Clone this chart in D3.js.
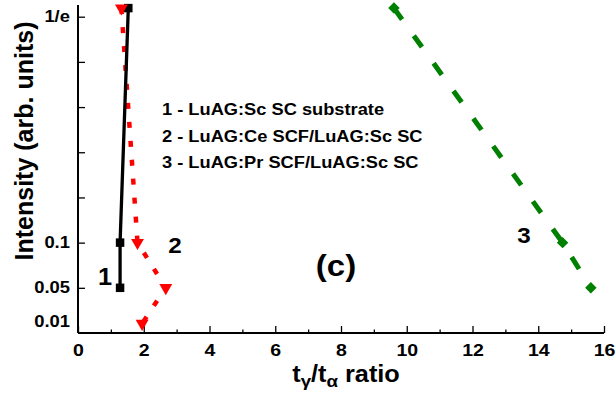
<!DOCTYPE html>
<html>
<head>
<meta charset="utf-8">
<script src="https://cdn.jsdelivr.net/npm/d3@7"></script>
<style>
  html, body { margin: 0; padding: 0; background: #fff; }
  svg { display: block; }
  text { font-family: "Liberation Sans", Arial, sans-serif; font-weight: bold; fill: #000; }
</style>
</head>
<body>
<svg id="chart" width="615" height="394"></svg>
<script>
// Decay-time ratio data; the vertical axis is a ranked intensity scale,
// each unit being one labelled step (0.05, 0.1, ... up to 1/e).
const xMajorTicks = [0, 2, 4, 6, 8, 10, 12, 14, 16];
const xMinorTicks = [1, 3, 5, 7, 9, 11, 13, 15];
const yTickLevels = [1, 2, 3, 4, 5, 6, 7];
const yTickLabels = ["0.05", "0.1", "", "", "", "", "1/e"];
const yExtraLabel = "0.01";
const yExtraLevel = 0.24;

const s1X = [1.28, 1.28, 1.53];
const s1Y = [1, 2, 7.19];
const s2X = [1.32, 1.81, 2.67, 1.95];
const s2Y = [7.19, 2, 1, 0.21];
const s3X = [9.61, 14.74, 15.6];
const s3Y = [7.19, 2, 1];

const legendLines = [
  "1 - LuAG:Sc SC substrate",
  "2 - LuAG:Ce SCF/LuAG:Sc SC",
  "3 - LuAG:Pr SCF/LuAG:Sc SC"
];

const svg = d3.select("#chart");
const x = d3.scaleLinear().domain([0, 16]).range([78, 604]);
const y = d3.scaleLinear().domain([0, 7]).range([333, 16.7]);
const yTop = 5;

// axes
const gx = svg.append("g").attr("transform", "translate(0,333)");
gx.call(d3.axisBottom(x).tickValues(xMajorTicks).tickSizeInner(-7).tickSizeOuter(0).tickPadding(12).tickFormat(d3.format("d")));
const gxm = svg.append("g").attr("transform", "translate(0,333)");
gxm.call(d3.axisBottom(x).tickValues(xMinorTicks).tickSizeInner(-3.5).tickSizeOuter(0).tickFormat(""));
gxm.select(".domain").remove();
gx.select(".domain").attr("d", `M${x(0)},0H${x(16)}`).attr("stroke-width", 2);
gx.selectAll(".tick line").attr("stroke-width", 1.3);
gxm.selectAll(".tick line").attr("stroke-width", 1.3);
gx.selectAll(".tick text").attr("font-size", 16).attr("transform", "scale(1.22,1)");

const gy = svg.append("g").attr("transform", "translate(78,0)");
gy.call(d3.axisLeft(y).tickValues(yTickLevels).tickSizeInner(-7).tickSizeOuter(0).tickPadding(8)
  .tickFormat((d, i) => yTickLabels[i]));
gy.select(".domain").attr("d", `M0,${yTop}V${y(0)}`).attr("stroke-width", 2);
gy.selectAll(".tick line").attr("stroke-width", 1.3);
gy.selectAll(".tick text").attr("font-size", 16).attr("x", -7).attr("transform", "scale(1.15,1)");
gy.append("text")
  .attr("x", -7).attr("y", y(yExtraLevel)).attr("dy", "0.32em")
  .attr("text-anchor", "end").attr("font-size", 16)
  .attr("transform", "scale(1.15,1)")
  .text(yExtraLabel);

// axis titles
svg.append("text")
  .attr("transform", "translate(33,141) rotate(-90)")
  .attr("text-anchor", "middle").attr("font-size", 25)
  .text("Intensity (arb. units)");

const xt = svg.append("text")
  .attr("transform", "translate(346,382) scale(1.1,1)")
  .attr("text-anchor", "middle").attr("font-size", 23);
xt.append("tspan").text("t");
xt.append("tspan").attr("font-size", 17).attr("dy", 5).text("γ");
xt.append("tspan").attr("dy", -5).text("/t");
xt.append("tspan").attr("font-size", 17).attr("dy", 5).text("α");
xt.append("tspan").attr("dy", -5).text(" ratio");

// series
const line = d3.line().x(d => x(d[0])).y(d => y(d[1]));
const pts = (xs, ys) => xs.map((v, i) => [v, ys[i]]);

svg.append("path").datum(pts(s2X, s2Y)).attr("d", line)
  .attr("fill", "none").attr("stroke", "#ff0000").attr("stroke-width", 4.5)
  .attr("stroke-dasharray", "6,13");
svg.append("path").datum(pts(s1X, s1Y)).attr("d", line)
  .attr("fill", "none").attr("stroke", "#000").attr("stroke-width", 3.3);
svg.append("path").datum(pts(s3X, s3Y)).attr("d", line)
  .attr("fill", "none").attr("stroke", "#008000").attr("stroke-width", 5)
  .attr("stroke-dasharray", "14,20");

svg.selectAll(".m1").data(pts(s1X, s1Y)).join("path")
  .attr("transform", d => `translate(${x(d[0])},${y(d[1])})`)
  .attr("d", d3.symbol(d3.symbolSquare, 72)).attr("fill", "#000");
svg.selectAll(".m2").data(pts(s2X, s2Y)).join("path")
  .attr("transform", d => `translate(${x(d[0])},${y(d[1])}) rotate(180)`)
  .attr("d", d3.symbol(d3.symbolTriangle, 72)).attr("fill", "#ff0000");
svg.selectAll(".m3").data(pts(s3X, s3Y)).join("path")
  .attr("transform", d => `translate(${x(d[0])},${y(d[1])}) rotate(45)`)
  .attr("d", d3.symbol(d3.symbolSquare, 66)).attr("fill", "#008000");

// curve numbers and panel letter
const note = (t, cx, by, fs) => svg.append("text")
  .attr("transform", `translate(${cx},${by}) scale(1.1,1)`)
  .attr("text-anchor", "middle").attr("font-size", fs).text(t);
note("1", 105, 285, 23);
note("2", 175, 253, 22);
note("3", 524, 243, 22);
note("(c)", 336, 276, 30);

// legend
legendLines.forEach((t, i) => {
  svg.append("text")
    .attr("transform", `translate(162,${115 + i * 26.7}) scale(1.12,1)`)
    .attr("font-size", 16.3).text(t);
});
</script>
</body>
</html>
